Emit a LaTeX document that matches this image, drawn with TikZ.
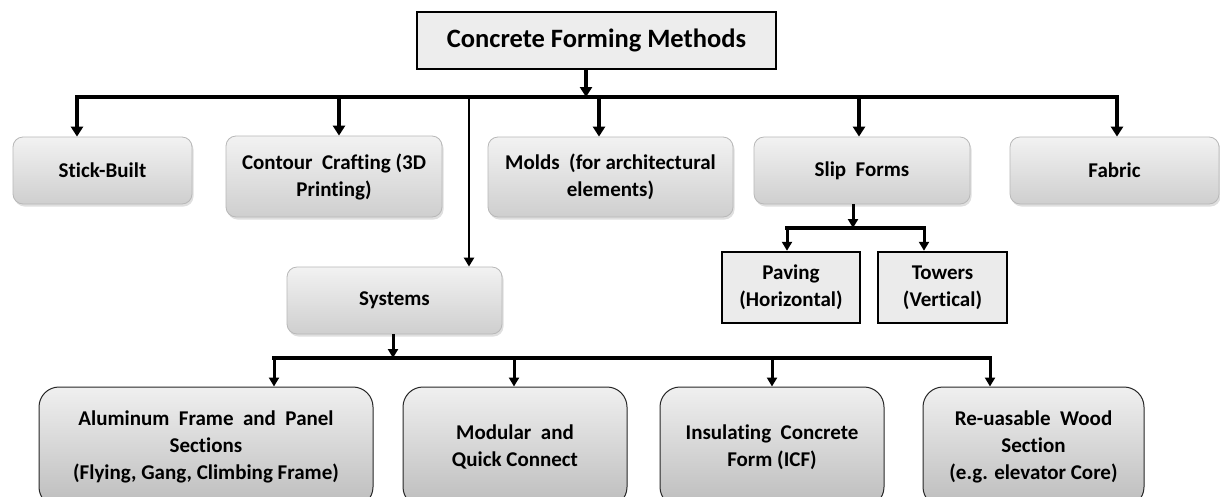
\documentclass[tikz,border=0pt]{standalone}
\usepackage{fontspec}
\setmainfont{Carlito}[Ligatures={NoCommon}]
\usetikzlibrary{arrows.meta,shadows}
\begin{document}
\begin{tikzpicture}[x=1pt,y=-1pt,
  every node/.style={font=\bfseries\fontsize{21}{27}\selectfont, align=center, inner sep=0pt},
  titlebox/.style={draw=black, line width=2.5pt, fill=black!7, minimum width=359pt, minimum height=57pt, font=\bfseries\fontsize{26.5}{30}\selectfont},
  topbox/.style={draw=black!28, line width=0.8pt, rounded corners=10pt, top color=black!5, bottom color=black!19,
     drop shadow={opacity=0.25, shadow xshift=1.5pt, shadow yshift=-2.5pt}},
  subbox/.style={draw=black, line width=2.5pt, fill=black!8, minimum width=#1, minimum height=71pt},
  botbox/.style={draw=black!85, line width=1pt, rounded corners=20pt, top color=black!6, bottom color=black!26,
     minimum width=#1, minimum height=120pt},
  bus/.style={line width=4.5pt, line cap=rect},
  arr/.style={line width=4pt, -{Triangle[width=12pt,length=10pt]}},
  arrthin/.style={line width=3pt, -{Triangle[width=10pt,length=9pt]}},
  arrline/.style={line width=2.5pt, -{Triangle[width=10pt,length=9pt]}}
]
\clip (0,0) rectangle (1220,496);
\fill[white] (0,0) rectangle (1220,496);

% nodes
\node[titlebox] (title) at (596.5,40.5) {Concrete Forming Methods};
\node[topbox, minimum width=179pt, minimum height=67pt] (stick) at (102.5,170.5) {Stick-Built};
\node[topbox, minimum width=216pt, minimum height=81pt] (contour) at (334,176.5) {Contour\ \ Crafting (3D\\Printing)};
\node[topbox, minimum width=245pt, minimum height=80pt] (molds) at (610.5,177) {Molds\ \ (for architectural\\elements)};
\node[topbox, minimum width=216pt, minimum height=67pt] (slip) at (862,170.5) {Slip\ \ Forms};
\node[topbox, minimum width=209pt, minimum height=67pt] (fabric) at (1114.5,170.5) {Fabric};
\node[topbox, minimum width=215pt, minimum height=67pt] (systems) at (394.5,300.5) {Systems};
\node[subbox=138pt] (paving) at (791,287.5) {Paving\\(Horizontal)};
\node[subbox=129pt] (towers) at (942.5,287.5) {Towers\\(Vertical)};
\node[botbox=334pt] (alum) at (206,447) {Aluminum\ \ Frame\ \ and\ \ Panel\\Sections\\(Flying, Gang, Climbing Frame)};
\node[botbox=224pt] (modular) at (515,447) {Modular\ \ and\\Quick Connect};
\node[botbox=224pt] (icf) at (772,447) {Insulating\ \ Concrete\\Form (ICF)};
\node[botbox=221pt] (reuse) at (1033.5,447) {Re-uasable\ \ Wood\\Section\\(e.g. elevator Core)};

% bus coordinates
\coordinate (bL) at (77,97);
\coordinate (bR) at (1117,97);
\coordinate (bT) at (586,97);
\coordinate (bC) at (339,97);
\coordinate (bS) at (469,97);
\coordinate (bM) at (599,97);
\coordinate (bF) at (859,97);
\coordinate (sT) at (853,228);
\coordinate (sL) at (787,228);
\coordinate (sR) at (924,228);
\coordinate (yT) at (393,358);
\coordinate (yL) at (274,358);
\coordinate (yM) at (514,358);
\coordinate (yI) at (772,358);
\coordinate (yR) at (990,358);

% main bus
\draw[bus] (bL) -- (bR);
\draw[arr] (title.south -| bT) -- (bT);
\draw[arr] (bL) -- (bL |- stick.north);
\draw[arr] (bC) -- (bC |- contour.north);
\draw[arrline] (bS) -- (bS |- systems.north);
\draw[arr] (bM) -- (bM |- molds.north);
\draw[arr] (bF) -- (bF |- slip.north);
\draw[arr] (bR) -- (bR |- fabric.north);

% slip forms sub-tree
\draw[bus, line width=3.5pt] (sL) -- (sR);
\draw[arrthin] (slip.south -| sT) -- (sT);
\draw[arrthin] (sL) -- (sL |- paving.north);
\draw[arrthin] (sR) -- (sR |- towers.north);

% systems sub-tree
\draw[bus, line width=4pt] (yL) -- (yR);
\draw[arrthin] (systems.south -| yT) -- (yT);
\draw[arrthin] (yL) -- (yL |- alum.north);
\draw[arrthin] (yM) -- (yM |- modular.north);
\draw[arrthin] (yI) -- (yI |- icf.north);
\draw[arrthin] (yR) -- (yR |- reuse.north);
\end{tikzpicture}
\end{document}
